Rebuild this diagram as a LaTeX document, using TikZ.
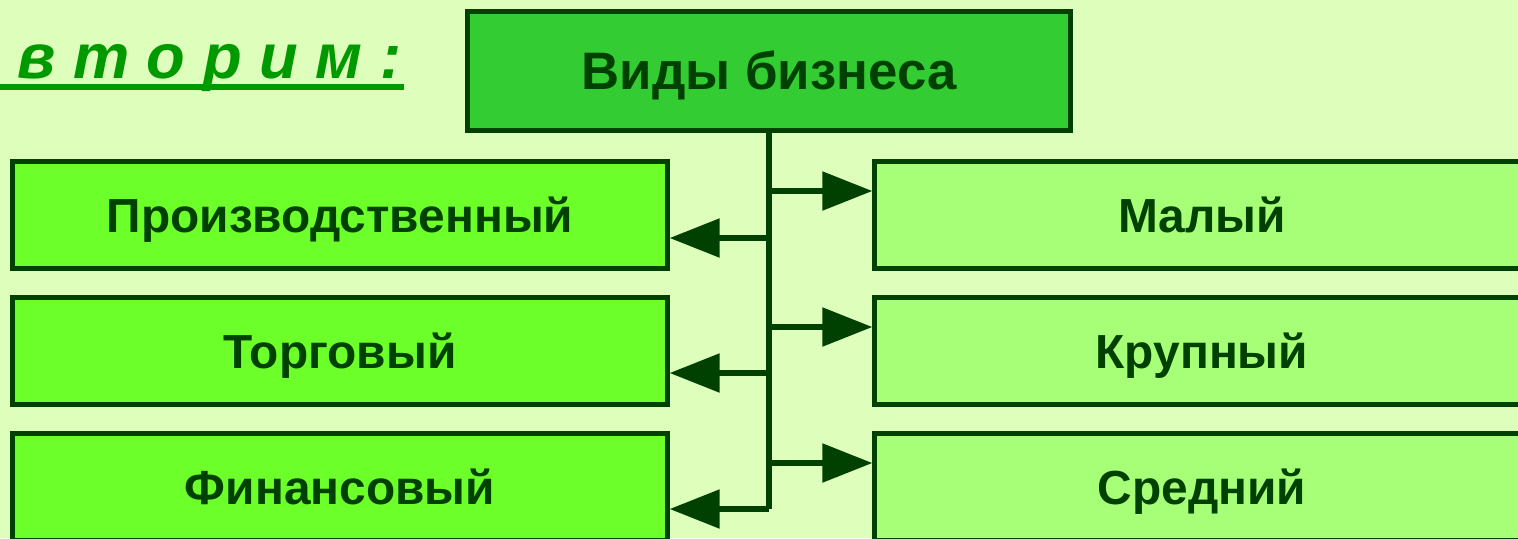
\documentclass[tikz,border=0pt]{standalone}
\usepackage{fontspec}
\setmainfont{Liberation Sans}
\usetikzlibrary{arrows.meta}
\definecolor{bgcol}{HTML}{DDFFBB}
\definecolor{topcol}{HTML}{33CC33}
\definecolor{leftcol}{HTML}{6CFF2A}
\definecolor{rightcol}{HTML}{A6FF77}
\definecolor{edgecol}{HTML}{004000}
\definecolor{titlecol}{HTML}{009900}
\begin{document}
\begin{tikzpicture}[x=0.01cm,y=-0.01cm,
  main node/.style={rectangle,draw=edgecol,line width=0.05cm,text=edgecol,
    font=\bfseries\fontsize{13.6}{16}\selectfont,inner sep=0pt,
    text height=9.8pt,text depth=0pt,
    minimum width=6.54cm,minimum height=1.06cm},
  arr/.style={draw=edgecol,line width=0.055cm,-{Triangle[length=0.5cm,width=0.38cm]}}]
  \useasboundingbox[fill=bgcol] (0,0) rectangle (1518,538);
  % heading
  \node[anchor=base east,text=titlecol,inner sep=0pt,font=\bfseries\itshape\fontsize{18}{20}\selectfont] (title) at (402,78) {в т о р и м :};
  \draw[titlecol,line width=0.06cm] (0,87) -- (404,87);
  % boxes
  \node[main node,fill=topcol,font=\bfseries\fontsize{15}{18}\selectfont,text height=10.7pt,
    minimum width=6.02cm,minimum height=1.18cm] (top) at (769,71) {Виды бизнеса};
  \node[main node,fill=leftcol] (prod) at (340,215) {Производственный};
  \node[main node,fill=leftcol] (torg) at (340,351) {Торговый};
  \node[main node,fill=leftcol] (fin) at (340,487) {Финансовый};
  \node[main node,fill=rightcol] (mal) at (1202,215) {Малый};
  \node[main node,fill=rightcol] (krup) at (1202,351) {Крупный};
  \node[main node,fill=rightcol] (sred) at (1202,487) {Средний};
  % connectors
  \coordinate (end) at (769,509);
  \coordinate (r1) at (769,191);
  \coordinate (r2) at (769,327);
  \coordinate (r3) at (769,463);
  \coordinate (l1) at (769,238);
  \coordinate (l2) at (769,373);
  \draw[edgecol,line width=0.055cm] (top.south) -- (end);
  \draw[arr] (r1) -- (r1 -| mal.west);
  \draw[arr] (r2) -- (r2 -| krup.west);
  \draw[arr] (r3) -- (r3 -| sred.west);
  \draw[arr] (l1) -- (l1 -| prod.east);
  \draw[arr] (l2) -- (l2 -| torg.east);
  \draw[arr] (end) -- (end -| fin.east);
\end{tikzpicture}
\end{document}
